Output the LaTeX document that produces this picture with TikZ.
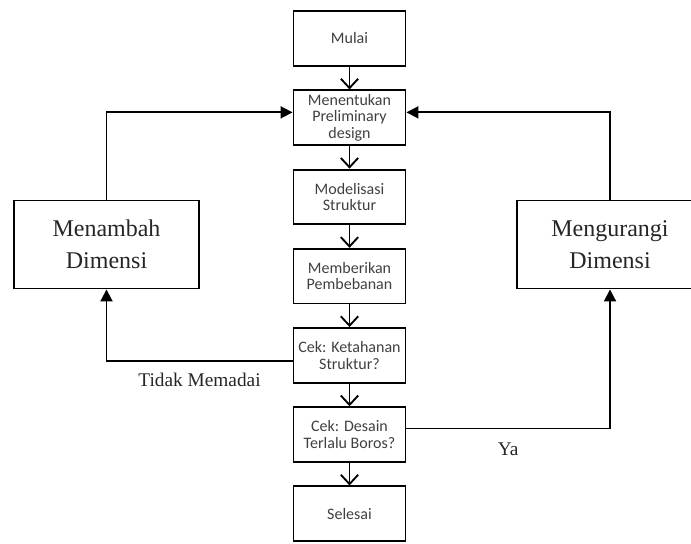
\documentclass[tikz,border=0pt]{standalone}
\usepackage{fontspec}
\setmainfont{Liberation Serif}
\newfontfamily\carlito{Carlito}
\usetikzlibrary{arrows.meta}
\usetikzlibrary{positioning}

\begin{document}
\begin{tikzpicture}[x=0.75pt, y=-0.75pt, node distance=17pt,
    proses/.style={draw, line width=1.4pt, minimum width=84pt, minimum height=41pt, inner sep=1pt,
        align=center, text=black!75, font=\carlito\fontsize{12}{12.5}\selectfont},
    ubah/.style={draw, line width=1.4pt, minimum width=139pt, minimum height=66pt,
        align=center, text=black!85, font=\fontsize{18}{24}\selectfont},
    ket/.style={font=\fontsize{14.5}{17}\selectfont, text=black!85},
    turun/.style={-{Straight Barb[length=7pt,width=13pt]}, line width=1.4pt},
    balik/.style={-{Triangle[length=9pt,width=9pt]}, line width=1.4pt}]
    \useasboundingbox (0,0) rectangle (691,543);
    \clip (0,0) rectangle (691,543);
    % alur utama
    \node[proses] (mulai) at (349.5,38.5) {Mulai};
    \node[proses, below=of mulai] (tentukan) {Menentukan\\Preliminary\\design};
    \node[proses, below=of tentukan] (model) {Modelisasi\\Struktur};
    \node[proses, below=of model] (beban) {Memberikan\\Pembebanan};
    \node[proses, below=of beban] (cekkuat) {Cek: Ketahanan\\Struktur?};
    \node[proses, below=of cekkuat] (cekboros) {Cek: Desain\\Terlalu Boros?};
    \node[proses, below=of cekboros] (selesai) {Selesai};
    \foreach \a/\b in {mulai/tentukan, tentukan/model, model/beban, beban/cekkuat,
        cekkuat/cekboros, cekboros/selesai}
        \draw[turun] (\a) -- (\b);
    % perbaikan dimensi
    \node[ubah] (tambah) at (106.5,244.5) {Menambah\\Dimensi};
    \node[ubah] (kurang) at (610,244.5) {Mengurangi\\Dimensi};
    \draw[balik] (tambah.north) |- ([yshift=4pt]tentukan.west);
    \draw[balik] (kurang.north) |- ([yshift=4pt]tentukan.east);
    \draw[balik] ([yshift=-4.5pt]cekkuat.west) -| node[ket, pos=0.25, below=4.5pt] (tidak) {Tidak Memadai} (tambah.south);
    \draw[balik] ([yshift=4.5pt]cekboros.east) -| node[ket, pos=0.25, below=6.5pt] (ya) {Ya} (kurang.south);
\end{tikzpicture}
\end{document}
